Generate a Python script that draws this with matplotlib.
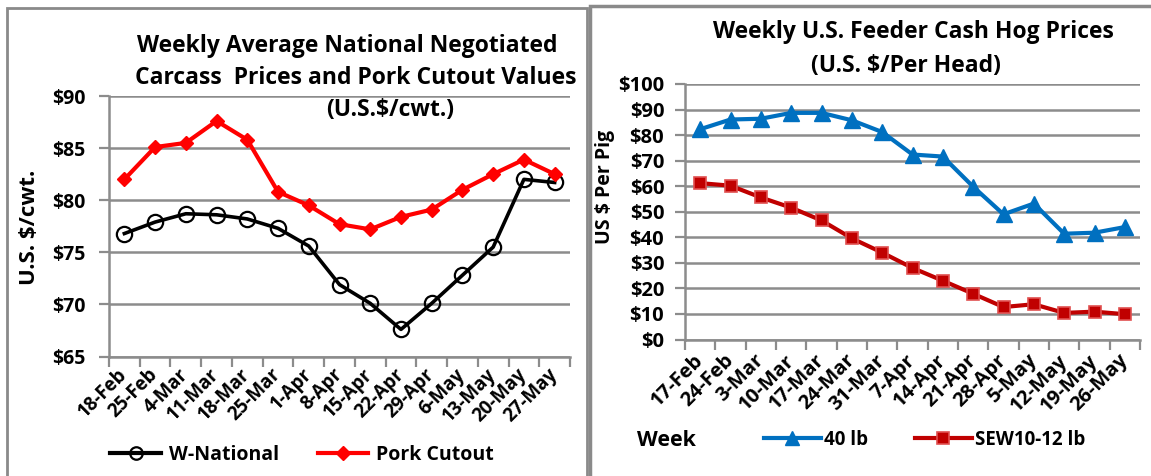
import matplotlib
matplotlib.use('Agg')
import matplotlib.pyplot as plt
from matplotlib.patches import Rectangle
from matplotlib.lines import Line2D

plt.rcParams['font.family'] = ['Open Sans', 'DejaVu Sans']
plt.rcParams['font.weight'] = 'bold'

# left chart data
weeks_left = ['18-Feb', '25-Feb', '4-Mar', '11-Mar', '18-Mar', '25-Mar', '1-Apr', '8-Apr',
              '15-Apr', '22-Apr', '29-Apr', '6-May', '13-May', '20-May', '27-May']
w_national = [76.8, 77.9, 78.7, 78.6, 78.2, 77.3, 75.6, 71.9, 70.1, 67.6, 70.1, 72.8, 75.5, 82.0, 81.7]
pork_cutout = [82.0, 85.1, 85.5, 87.6, 85.8, 80.8, 79.5, 77.7, 77.2, 78.4, 79.1, 81.0, 82.5, 83.9, 82.5]

# right chart data
weeks_right = ['17-Feb', '24-Feb', '3-Mar', '10-Mar', '17-Mar', '24-Mar', '31-Mar', '7-Apr',
               '14-Apr', '21-Apr', '28-Apr', '5-May', '12-May', '19-May', '26-May']
lb40 = [82.3, 86.1, 86.4, 88.7, 88.7, 85.8, 81.2, 72.4, 71.6, 59.8, 49.0, 53.2, 41.4, 41.8, 44.0]
sew = [61.2, 60.2, 55.6, 51.6, 46.6, 39.6, 34.0, 28.0, 23.0, 17.9, 12.7, 13.8, 10.4, 10.9, 9.9]

W, H = 1151, 476
fig = plt.figure(figsize=(W / 100, H / 100), dpi=100)


def px_axes(x0, y0, x1, y1):
    return fig.add_axes([x0 / W, 1 - y1 / H, (x1 - x0) / W, (y1 - y0) / H])


def px_text(x, y, s, **kw):
    kw.setdefault('ha', 'center')
    kw.setdefault('va', 'center')
    return fig.text(x / W, 1 - y / H, s, **kw)


def style_axes(ax, labels, xsize, xpad, ysize, ypad):
    n = len(labels)
    ax.set_xlim(-0.5, n - 0.5)
    ax.set_xticks(range(n))
    ax.set_xticklabels(labels, rotation=45, ha='right', va='center', rotation_mode='anchor')
    ax.set_xticks([i - 0.5 for i in range(n + 1)], minor=True)
    ax.tick_params(axis='x', which='major', length=0, pad=xpad, labelsize=xsize)
    ax.tick_params(axis='x', which='minor', length=7, width=1.6, color='#8c8c8c')
    ax.tick_params(axis='y', length=7, width=1.6, color='#8c8c8c', labelsize=ysize, pad=ypad)
    ax.grid(axis='y', color='#8c8c8c', lw=1.8)
    ax.set_axisbelow(True)
    for s in ['top', 'right']:
        ax.spines[s].set_visible(False)
    for s in ['left', 'bottom']:
        ax.spines[s].set_color('#8c8c8c')
        ax.spines[s].set_linewidth(1.8)


# panel frames
fig.patches.append(Rectangle((7 / W, -0.01), 580 / W, 1 - 8 / H + 0.01, transform=fig.transFigure,
                             fill=False, ec='#8a8a8a', lw=2))
fig.patches.append(Rectangle((590 / W, -0.01), 600 / W, 1 - 6 / H + 0.01, transform=fig.transFigure,
                             fill=False, ec='#8a8a8a', lw=2.5))

# ---- left chart
ax1 = px_axes(109, 96, 570, 356.5)
x = range(len(weeks_left))
ax1.plot(x, w_national, color='black', lw=2.6, marker='o', ms=11, mfc='none', mec='black', mew=1.6)
ax1.plot(x, pork_cutout, color='#ff0000', lw=3, marker='D', ms=7.5, mfc='#ff0000', mec='#ff0000')
style_axes(ax1, weeks_left, 13.5, 11, 14, 10)
ax1.set_ylim(65, 90)
ax1.set_yticks(range(65, 91, 5))
ax1.set_yticklabels(['$%d' % v for v in range(65, 91, 5)])
px_text(30, 227, 'U.S. $/cwt.', rotation=90, fontsize=16)

px_text(347, 46, 'Weekly Average National Negotiated', fontsize=16.5)
px_text(356, 78, 'Carcass  Prices and Pork Cutout Values', fontsize=16.5)
px_text(390, 110, '(U.S.$/cwt.)', fontsize=16.5)

h1 = [Line2D([], [], color='black', lw=3, marker='o', ms=9, mfc='none', mec='black', mew=1.6),
      Line2D([], [], color='#ff0000', lw=3, marker='D', ms=7, mfc='#ff0000', mec='#ff0000')]
fig.legend(h1, ['W-National', 'Pork Cutout'], loc='center', bbox_to_anchor=(302 / W, 1 - 455 / H),
           ncol=2, frameon=False, fontsize=14, handlelength=2.6, columnspacing=2.0, handletextpad=0.4)

# ---- right chart
ax2 = px_axes(685, 84, 1140, 339.5)
x = range(len(weeks_right))
ax2.plot(x, lb40, color='#0070c0', lw=3, marker='^', ms=11, mfc='#0070c0', mec='#0070c0')
ax2.plot(x, sew, color='#c00000', lw=3, marker='s', ms=9, mfc='#c00000', mec='#e05050', mew=1.2)
style_axes(ax2, weeks_right, 14.5, 13, 14.5, 8)
ax2.set_ylim(0, 100)
ax2.set_yticks(range(0, 101, 10))
ax2.set_yticklabels(['$%d' % v for v in range(0, 101, 10)])
px_text(605, 187, 'US $ Per Pig', rotation=90, fontsize=14)

px_text(913, 32, 'Weekly U.S. Feeder Cash Hog Prices', fontsize=16.5)
px_text(906, 66, '(U.S. $/Per Head)', fontsize=16.5)
px_text(637, 440, 'Week', ha='left', fontsize=15.5)

h2 = [Line2D([], [], color='#0070c0', lw=3, marker='^', ms=10, mfc='#0070c0', mec='#0070c0'),
      Line2D([], [], color='#c00000', lw=3, marker='s', ms=9, mfc='#c00000', mec='#e05050', mew=1.2)]
fig.legend(h2, ['40 lb', 'SEW10-12 lb'], loc='center', bbox_to_anchor=(925 / W, 1 - 440 / H),
           ncol=2, frameon=False, fontsize=13.5, handlelength=3, columnspacing=2.5, handletextpad=0.2)

fig.savefig('out.png', dpi=100)
